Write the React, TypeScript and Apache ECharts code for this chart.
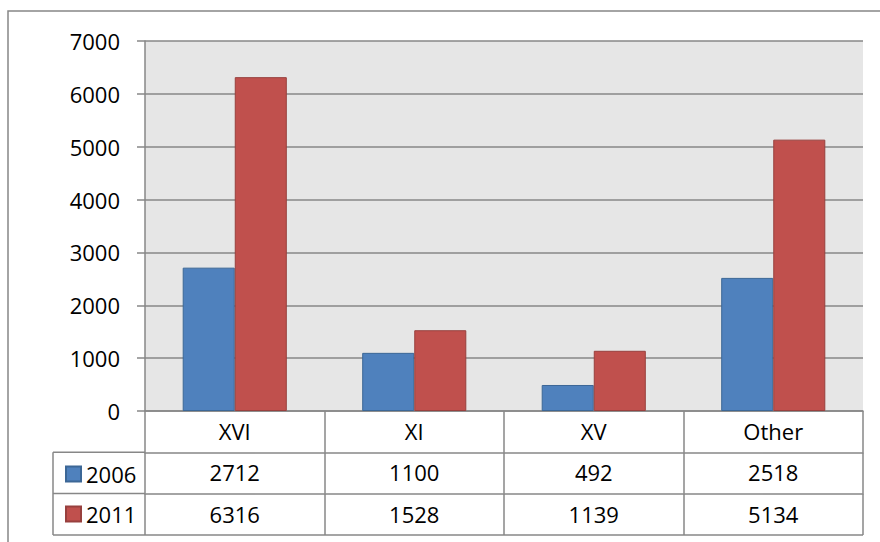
import React, { useEffect, useRef } from "react";
import * as echarts from "echarts";

const categories = ["XVI", "XI", "XV", "Other"];
const seriesNames = ["2006", "2011"];
const values2006 = [2712, 1100, 492, 2518];
const values2011 = [6316, 1528, 1139, 5134];
const yTicks = { min: 0, max: 7000, interval: 1000 };

const FONT = "'Open Sans', 'Liberation Sans', sans-serif";
const FS = 22;
const GRAY = "#878787";
const W = 880;
const H = 542;
const G_LEFT = 145;
const G_RIGHT = 863;
const G_TOP = 41;
const G_BOTTOM = 411;
const ROW = 41.3;
const TABLE_LEFT = 53;

export default function App() {
  const ref = useRef<HTMLDivElement>(null);
  useEffect(() => {
    if (!ref.current) return;
    const chart = echarts.init(ref.current, null, { renderer: "svg", width: W, height: H });
    const tableAxis = (data: string[], offset: number, tickLen: number) => ({
      type: "category",
      data,
      position: "bottom",
      offset,
      gridIndex: 0,
      axisLine: { show: true, lineStyle: { color: GRAY, width: 1.5 } },
      axisTick: { show: true, interval: 0, alignWithLabel: false, length: tickLen, inside: false, lineStyle: { color: GRAY, width: 1.5 } },
      axisLabel: { show: true, interval: 0, margin: 9, color: "#000", fontSize: FS, fontFamily: FONT },
      splitLine: { show: false },
    });
    const lineY1 = G_BOTTOM + ROW;
    const lineY2 = G_BOTTOM + ROW * 2;
    const lineY3 = G_BOTTOM + ROW * 3;
    const ls = { stroke: GRAY, lineWidth: 1.5 };
    chart.setOption({
      animation: false,
      backgroundColor: "#fff",
      textStyle: { fontFamily: FONT },
      grid: { left: G_LEFT, right: W - G_RIGHT, top: G_TOP, bottom: H - G_BOTTOM, show: true, backgroundColor: "#E6E6E6", borderWidth: 0 },
      legend: {
        data: seriesNames,
        orient: "vertical",
        left: 65,
        top: 463,
        padding: 0,
        icon: "rect",
        itemWidth: 15,
        itemHeight: 15,
        itemGap: 18,
        textStyle: { fontSize: FS, fontFamily: FONT, color: "#000", padding: [0, 0, 4, 0] },
        selectedMode: false,
      },
      xAxis: [
        tableAxis(categories, 0, ROW),
        tableAxis(values2006.map(String), ROW, ROW),
        tableAxis(values2011.map(String), ROW * 2, ROW),
      ],
      yAxis: {
        type: "value",
        min: yTicks.min,
        max: yTicks.max,
        interval: yTicks.interval,
        axisLine: { show: true, lineStyle: { color: GRAY, width: 1.5 } },
        axisTick: { show: true, length: 8, lineStyle: { color: GRAY, width: 1.5 } },
        axisLabel: { margin: 25, color: "#000", fontSize: FS, fontFamily: FONT, formatter: (v: number) => String(v) },
        splitLine: { show: true, lineStyle: { color: GRAY, width: 1.5 } },
      },
      series: [
        {
          name: seriesNames[0],
          type: "bar",
          data: values2006,
          barGap: "0%",
          barCategoryGap: "42%",
          itemStyle: { color: "#4F81BD", borderColor: "#3C6796", borderWidth: 1 },
        },
        {
          name: seriesNames[1],
          type: "bar",
          data: values2011,
          barGap: "0%",
          barCategoryGap: "42%",
          itemStyle: { color: "#C0504D", borderColor: "#98403E", borderWidth: 1 },
        },
      ],
      graphic: [
        { type: "rect", shape: { x: 8, y: 11, width: 1000, height: 1000 }, style: { fill: "none", stroke: GRAY, lineWidth: 1.5 }, silent: true },
        { type: "line", shape: { x1: TABLE_LEFT, y1: lineY1, x2: G_LEFT, y2: lineY1 }, style: ls },
        { type: "line", shape: { x1: TABLE_LEFT, y1: lineY2, x2: G_LEFT, y2: lineY2 }, style: ls },
        { type: "line", shape: { x1: TABLE_LEFT, y1: lineY3, x2: G_RIGHT, y2: lineY3 }, style: ls },
        { type: "line", shape: { x1: TABLE_LEFT, y1: lineY1, x2: TABLE_LEFT, y2: lineY3 }, style: ls },
      ],
    });
    return () => chart.dispose();
  }, []);
  return <div ref={ref} style={{ position: "absolute", left: 0, top: 0, width: W, height: H }} />;
}
